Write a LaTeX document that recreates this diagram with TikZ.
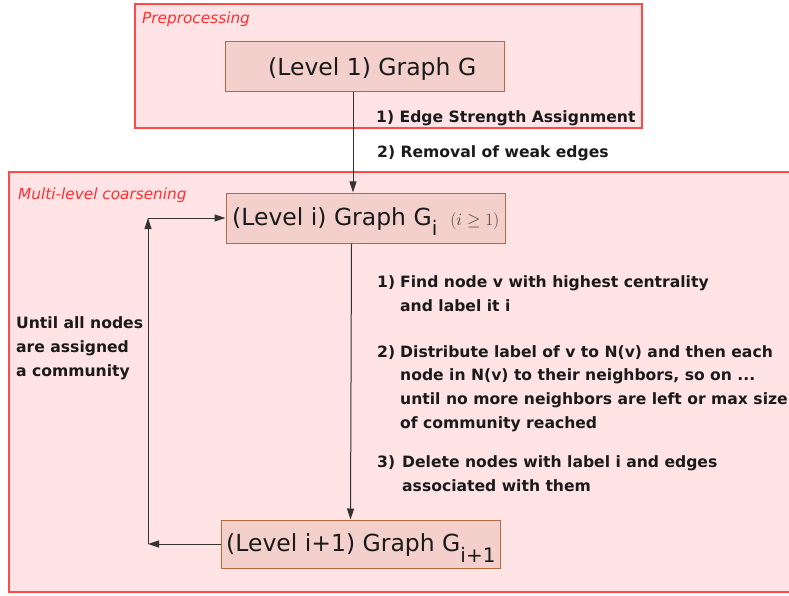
\documentclass[tikz,border=0pt]{standalone}
\usepackage{fontspec}
\setmainfont{DejaVu Sans}
\usetikzlibrary{arrows.meta}
\definecolor{boxfill}{HTML}{FFE3E5}
\definecolor{boxline}{HTML}{FF4A4A}
\definecolor{nodefill}{HTML}{F4D0CC}
\definecolor{nodeline}{HTML}{B8683F}
\definecolor{ink}{HTML}{1A1A1A}
\definecolor{ttlred}{HTML}{FF3030}
\begin{document}
\begin{tikzpicture}[x=1pt,y=-1pt,
  frame/.style={draw=boxline, fill=boxfill, line width=1.3pt},
  gbox/.style={draw=nodeline, fill=nodefill, line width=1pt, minimum width=279pt, minimum height=50pt, inner sep=0pt},
  gtext/.style={anchor=base west, inner sep=0pt, text=ink, font=\fontsize{23.5}{28}\selectfont},
  lab/.style={anchor=base west, inner sep=0pt, text=ink, font=\fontsize{15.6}{24}\selectfont\bfseries},
  ttl/.style={anchor=base west, inner sep=0pt, text=ttlred, font=\fontsize{15.3}{18}\selectfont\itshape},
  arr/.style={draw=black!80, line width=1pt, -{Triangle[length=11pt,width=7pt]}}]
\useasboundingbox (0,0) rectangle (789,596);
\draw[frame] (135,4) rectangle (642,128);
\draw[frame] (9,172) rectangle (800,592);
\node[ttl] (pt) at (142,24) {Preprocessing};
\node[ttl] (mt) at (18,199) {Multi-level coarsening};
\node[gbox] (g1) at (364.5,67) {};
\node[gbox] (gi) at (365.5,218) {};
\node[gbox, minimum height=48pt] (gn) at (360.5,544) {};
\node[gtext] (g1t) at (268,76) {(Level 1) Graph G};
\node[gtext] (git) at (232,225) {(Level i) Graph G\raisebox{-10pt}{\fontsize{20}{20}\selectfont i}\hspace{13pt}{\color{black!75}\fontsize{18.5}{18.5}\selectfont$(i\geq 1)$}};
\node[gtext] (gnt) at (226,551) {(Level i+1) Graph G\raisebox{-11pt}{\fontsize{20}{20}\selectfont i+1}};
\node[lab] (e1) at (376,123) {1) Edge Strength Assignment};
\node[lab] (e2) at (377,158) {2) Removal of weak edges};
\draw[arr] ([xshift=-11.5pt]g1.south) -- ([xshift=-12.5pt]gi.north);
\draw[arr] ([xshift=-14pt]gi.south) -- ([xshift=-10pt]gn.north);
\coordinate (lb) at (148,544);
\coordinate (lt) at (148,218);
\draw[arr] (gn.west) -- (lb);
\draw[arr] (lb) -- (lt);
\draw[arr] (lt) -- (gi.west);
\node[lab] (u1) at (16,328) {Until all nodes};
\node[lab] (u2) at (16,352) {are assigned};
\node[lab] (u3) at (16,376) {a community};
\node[lab] (s1n) at (377,287) {1)};
\node[lab] (s1a) at (400,287) {Find node v with highest centrality};
\node[lab] (s1b) at (400,311) {and label it i};
\node[lab] (s2n) at (377,357) {2)};
\node[lab] (s2a) at (400,357) {Distribute label of v to N(v) and then each};
\node[lab] (s2b) at (400,380) {node in N(v) to their neighbors, so on ...};
\node[lab] (s2c) at (400,404) {until no more neighbors are left or max size};
\node[lab] (s2d) at (400,428) {of community reached};
\node[lab] (s3n) at (377,467) {3)};
\node[lab] (s3a) at (402,467) {Delete nodes with label i and edges};
\node[lab] (s3b) at (402,491) {associated with them};
\end{tikzpicture}
\end{document}
